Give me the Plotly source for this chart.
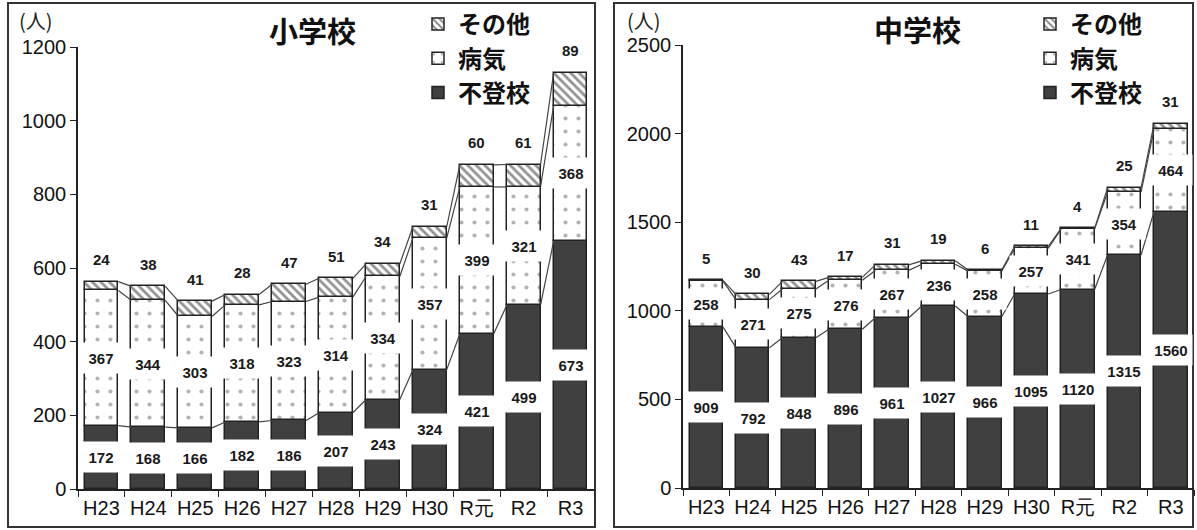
import plotly.graph_objects as go

W, H = 1197, 530

categories = ["H23", "H24", "H25", "H26", "H27", "H28", "H29", "H30", "R元", "R2", "R3"]

# 小学校
elem_futoko = [172, 168, 166, 182, 186, 207, 243, 324, 421, 499, 673]
elem_byoki = [367, 344, 303, 318, 323, 314, 334, 357, 399, 321, 368]
elem_sonota = [24, 38, 41, 28, 47, 51, 34, 31, 60, 61, 89]

# 中学校
jr_futoko = [909, 792, 848, 896, 961, 1027, 966, 1095, 1120, 1315, 1560]
jr_byoki = [258, 271, 275, 276, 267, 236, 258, 257, 341, 354, 464]
jr_sonota = [5, 30, 43, 17, 31, 19, 6, 11, 4, 25, 31]

series_names = ["不登校", "病気", "その他"]
elem_ticks = [0, 200, 400, 600, 800, 1000, 1200]
jr_ticks = [0, 500, 1000, 1500, 2000, 2500]


def px(x):
    return x / W


def py(y):
    return 1 - y / H


NUM = "Liberation Sans, Arial"
JP = "Noto Sans CJK JP"
BAR_W = 0.72

fig = go.Figure()

styles = [
    dict(color="#404040", line=dict(color="#222", width=1.5)),
    dict(color="white", line=dict(color="#222", width=1.5),
         pattern=dict(shape=".", fgcolor="#666", bgcolor="white", size=13, solidity=0.08)),
    dict(color="white", line=dict(color="#222", width=1.5),
         pattern=dict(shape="\\", fgcolor="#222", bgcolor="white", size=6, solidity=0.45)),
]

panels = [
    dict(xa="x", ya="y", leg="legend", data=[elem_futoko, elem_byoki, elem_sonota]),
    dict(xa="x2", ya="y2", leg="legend2", data=[jr_futoko, jr_byoki, jr_sonota]),
]

xs = list(range(len(categories)))
annotations = []

for p in panels:
    base = [0] * len(categories)
    for k, (name, vals) in enumerate(zip(series_names, p["data"])):
        fig.add_trace(go.Bar(
            x=xs, y=vals, base=base, name=name, width=BAR_W,
            marker=styles[k], xaxis=p["xa"], yaxis=p["ya"],
            legend=p["leg"], showlegend=True,
        ))
        tops = [b + v for b, v in zip(base, vals)]
        # series connector lines
        lx, ly = [], []
        for i in range(len(categories) - 1):
            lx += [i + BAR_W / 2, i + 1 - BAR_W / 2, None]
            ly += [tops[i], tops[i + 1], None]
        fig.add_trace(go.Scatter(
            x=lx, y=ly, mode="lines", line=dict(color="#444", width=1.2),
            xaxis=p["xa"], yaxis=p["ya"], showlegend=False, hoverinfo="skip",
        ))
        # labels
        for i, v in enumerate(vals):
            if k < 2:
                annotations.append(dict(
                    x=i, y=base[i] + v / 2, xref=p["xa"], yref=p["ya"],
                    xanchor="center", yanchor="middle",
                    text=f"<b>{v}</b>", showarrow=False,
                    font=dict(family=NUM, size=15, color="#1a1a1a"),
                    bgcolor="white", width=40, height=28,
                ))
            else:
                annotations.append(dict(
                    x=i, y=tops[i], xref=p["xa"], yref=p["ya"],
                    xanchor="center", yanchor="middle",
                    text=f"<b>{v}</b>", showarrow=False, yshift=22,
                    font=dict(family=NUM, size=15, color="#1a1a1a"),
                ))
        base = tops

# titles and unit labels
ann_common = dict(xref="paper", yref="paper", xanchor="center", yanchor="middle", showarrow=False)
annotations += [
    dict(x=px(312), y=py(30), text="<b>小学校</b>",
         font=dict(family=JP, size=29, color="#111"), **ann_common),
    dict(x=px(917), y=py(29), text="<b>中学校</b>",
         font=dict(family=JP, size=29, color="#111"), **ann_common),
    dict(x=px(36), y=py(21), text="(人)",
         font=dict(family=JP, size=20, color="#222"), **ann_common),
    dict(x=px(644), y=py(21), text="(人)",
         font=dict(family=JP, size=20, color="#222"), **ann_common),
]

axis_common = dict(showgrid=False, zeroline=False, showline=True, linecolor="#222",
                   linewidth=1.5, ticks="outside", tickcolor="#222", ticklen=6,
                   automargin=False)

xaxis_common = dict(
    showgrid=False, zeroline=False, showline=True, linecolor="#222", linewidth=1.5,
    range=[-0.5, len(categories) - 0.5], tickvals=xs, ticktext=categories,
    ticks="", tickfont=dict(family=NUM, size=20, color="#111"), automargin=False,
    minor=dict(tick0=0.5, dtick=1, ticks="outside", ticklen=6, tickcolor="#222"),
)

legend_common = dict(
    traceorder="reversed", bgcolor="rgba(0,0,0,0)", borderwidth=0,
    font=dict(family=JP, size=24, color="#111", weight="bold"),
    xanchor="left", yanchor="top", itemwidth=30,
)

fig.update_layout(
    width=W, height=H, autosize=False,
    margin=dict(l=0, r=0, t=0, b=0, autoexpand=False),
    paper_bgcolor="white", plot_bgcolor="white",
    barmode="overlay", bargap=0,
    showlegend=True,
    xaxis=dict(domain=[px(78), px(594)], anchor="y", **xaxis_common),
    yaxis=dict(domain=[py(489), py(47)], range=[0, 1200], tickvals=elem_ticks,
               anchor="x", tickfont=dict(family=NUM, size=20, color="#111"), **axis_common),
    xaxis2=dict(domain=[px(683), px(1194)], anchor="y2", **xaxis_common),
    yaxis2=dict(domain=[py(488), py(45)], range=[0, 2500], tickvals=jr_ticks,
                anchor="x2", tickfont=dict(family=NUM, size=20, color="#111"), **axis_common),
    legend=dict(x=px(418), y=py(2), **legend_common),
    legend2=dict(x=px(1030), y=py(2), **legend_common),
    annotations=annotations,
    shapes=[
        dict(type="rect", xref="paper", yref="paper", x0=px(8), x1=px(595), y0=py(527), y1=py(3),
             line=dict(color="#333", width=2), layer="below"),
        dict(type="rect", xref="paper", yref="paper", x0=px(614), x1=px(1193), y0=py(527), y1=py(3),
             line=dict(color="#333", width=2), layer="below"),
    ],
)

fig.write_html(
    "out.html",
    config={"displayModeBar": False},
    post_script="document.body.style.margin='0px';document.body.style.overflow='hidden';",
)
